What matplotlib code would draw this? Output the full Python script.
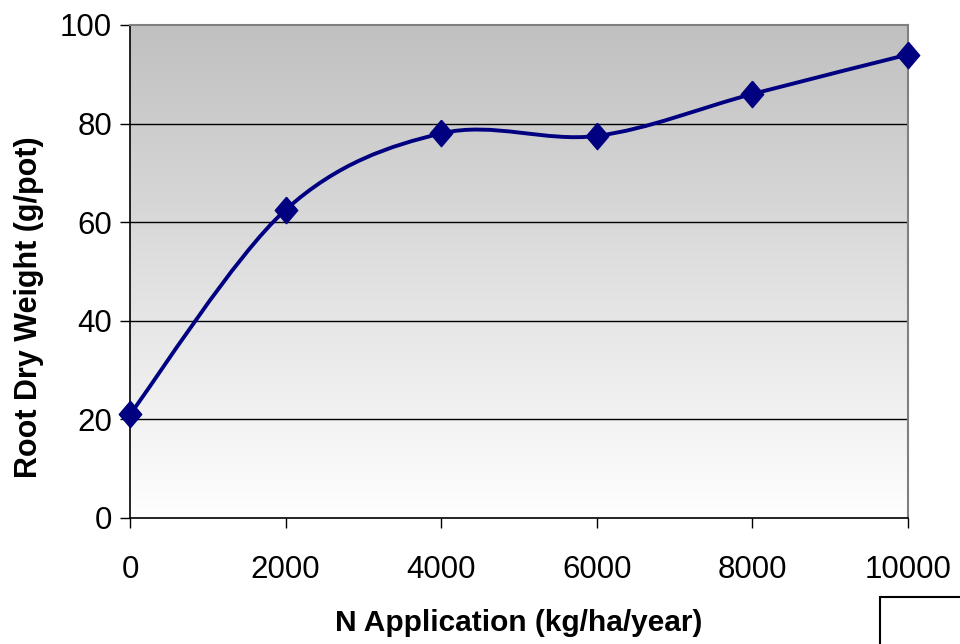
import numpy as np
import matplotlib
matplotlib.use("Agg")
import matplotlib.pyplot as plt
from matplotlib.path import Path
from matplotlib.patches import PathPatch, Rectangle
from matplotlib.colors import LinearSegmentedColormap

plt.rcParams['font.family'] = ['Liberation Sans', 'DejaVu Sans']

# %% Data
n_application = [0, 2000, 4000, 6000, 8000, 10000]
root_dry_weight = [21, 62.5, 78, 77.5, 86, 94]
y_ticks = [0, 20, 40, 60, 80, 100]
x_ticks = [0, 2000, 4000, 6000, 8000, 10000]

navy = "#000080"

fig = plt.figure(figsize=(9.6, 6.44), dpi=100)
ax = fig.add_axes([0.1354, 0.1957, 0.8104, 0.7655])
ax.set_xlim(0, 10000)
ax.set_ylim(0, 100)

# gradient background, silver at top to white at bottom
grad = LinearSegmentedColormap.from_list("bg", ["#ffffff", "#c0c0c0"])
ax.imshow(np.linspace(0, 1, 256).reshape(-1, 1), cmap=grad, origin="lower",
          extent=[0, 10000, 0, 100], aspect="auto", zorder=0)

for yv in y_ticks[1:-1]:
    ax.axhline(yv, color="black", lw=1.0, zorder=1)

# smoothed line (Excel style bezier through the points)
x = np.array(n_application, dtype=float)
y = np.array(root_dry_weight, dtype=float)
pts = np.column_stack([x, y])
verts = [pts[0]]
codes = [Path.MOVETO]
n = len(pts)
for i in range(n - 1):
    p0 = pts[max(i - 1, 0)]
    p1 = pts[i]
    p2 = pts[i + 1]
    p3 = pts[min(i + 2, n - 1)]
    c1 = p1 + (p2 - p0) / 6.0
    c2 = p2 - (p3 - p1) / 6.0
    verts += [c1, c2, p2]
    codes += [Path.CURVE4] * 3
ax.add_patch(PathPatch(Path(verts, codes), facecolor="none", edgecolor=navy,
                       lw=2.8, zorder=3, capstyle="round", joinstyle="round"))

diamond = [(0, 1), (0.85, 0), (0, -1), (-0.85, 0), (0, 1)]
ax.plot(n_application, root_dry_weight, linestyle="none", marker=diamond,
        markersize=19, color=navy, zorder=4, clip_on=False)

ax.set_xticks(x_ticks)
ax.set_yticks(y_ticks)
ax.tick_params(axis="both", labelsize=22.5, direction="out", length=7, width=1,
               colors="black")
ax.tick_params(axis="x", pad=20)
ax.tick_params(axis="y", pad=6)

for side in ["left", "bottom"]:
    ax.spines[side].set_color("black")
    ax.spines[side].set_linewidth(1.2)
for side in ["top", "right"]:
    ax.spines[side].set_color("#808080")
    ax.spines[side].set_linewidth(1.5)

fig.text(519 / 960, 1 - 623 / 644, "N Application (kg/ha/year)", fontsize=21.5,
         fontweight="bold", ha="center", va="center")
fig.text(29 / 960, 1 - 307 / 644, "Root Dry Weight (g/pot)", fontsize=22,
         fontweight="bold", ha="center", va="center", rotation=90)

# empty box at bottom right corner
fig.patches.append(Rectangle((880 / 960, -0.1), 0.2, 0.1 + 47 / 644,
                             transform=fig.transFigure, fill=False,
                             edgecolor="black", lw=1.5))

fig.savefig("out.png", dpi=100)
